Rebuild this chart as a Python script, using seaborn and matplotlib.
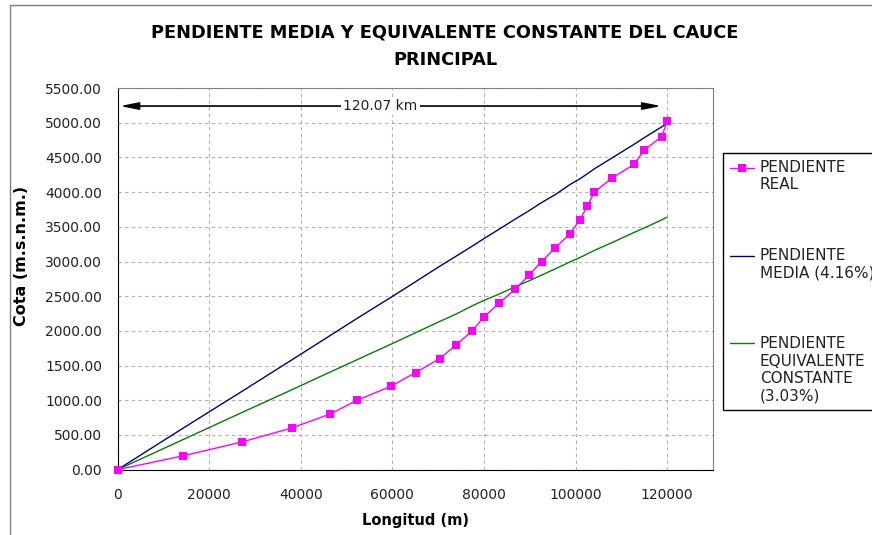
import numpy as np
import pandas as pd
import seaborn as sns
import matplotlib.pyplot as plt
from matplotlib.patches import Rectangle
from matplotlib.ticker import FuncFormatter, MultipleLocator
from matplotlib.legend_handler import HandlerLine2D

# longitud acumulada (m) y cotas (m.s.n.m.)
longitud = [0, 14350, 27200, 38000, 46350, 52300, 59600, 65100, 70300, 74000,
            77400, 80000, 83300, 86800, 89800, 92600, 95600, 98800, 100900,
            102600, 104100, 107900, 112800, 114900, 118800, 120000]
cota_real = [0, 200, 400, 600, 800, 1000, 1200, 1400, 1600, 1800, 2000, 2200,
             2400, 2600, 2800, 3000, 3200, 3400, 3600, 3800, 4000, 4200, 4400,
             4600, 4800, 5020]
cota_media = [0, 600, 1130, 1580, 1930, 2180, 2480, 2710, 2930, 3080, 3220,
              3330, 3465, 3610, 3730, 3850, 3965, 4110, 4190, 4265, 4335, 4490,
              4690, 4780, 4940, 4990]
cota_equiv = [0, 435, 825, 1150, 1405, 1585, 1805, 1975, 2135, 2245, 2360,
              2440, 2530, 2635, 2720, 2805, 2895, 2995, 3055, 3110, 3160, 3270,
              3420, 3480, 3600, 3638]

etiquetas = ["PENDIENTE\nREAL", "PENDIENTE\nMEDIA (4.16%)",
             "PENDIENTE\nEQUIVALENTE\nCONSTANTE\n(3.03%)"]
longitud_cauce = "120.07 km"

df = pd.DataFrame({"Longitud": longitud, "real": cota_real,
                   "media": cota_media, "equiv": cota_equiv})

sns.set_style("white")
plt.rcParams["font.family"] = ["DejaVu Sans"]
plt.rcParams["text.color"] = "black"

W, H = 872, 535
fig = plt.figure(figsize=(W / 100, H / 100), dpi=100)
ax = fig.add_axes([117.5 / W, 1 - 469.7 / H, (713 - 117.5) / W, (469.7 - 88) / H])

# marco exterior del grafico
fig.patches.append(Rectangle((10 / W, -0.1), 1.2, 1 - 5 / H + 0.1,
                             transform=fig.transFigure, fill=False,
                             edgecolor="#808080", lw=1))

sns.lineplot(data=df, x="Longitud", y="media", ax=ax, color="#000080",
             lw=1, label=etiquetas[1], zorder=3)
sns.lineplot(data=df, x="Longitud", y="equiv", ax=ax, color="#008000",
             lw=1, label=etiquetas[2], zorder=3)
sns.lineplot(data=df, x="Longitud", y="real", ax=ax, color="#ff00ff",
             lw=1, marker="s", markersize=6, markeredgewidth=0,
             label=etiquetas[0], clip_on=False, zorder=4)
if ax.get_legend() is not None:
    ax.get_legend().remove()

ax.set_xlim(0, 130000)
ax.set_ylim(0, 5500)
ax.yaxis.set_major_locator(MultipleLocator(500))
ax.yaxis.set_major_formatter(FuncFormatter(lambda v, p: f"{v:.2f}"))
ax.set_xticks(np.arange(0, 120001, 20000))
ax.grid(True, color="#b0b0b0", ls=(0, (3, 3)), lw=0.8)
ax.set_axisbelow(True)
ax.tick_params(direction="out", length=5, width=1, color="black",
               labelsize=10, labelcolor="#222222")
ax.tick_params(axis="x", pad=8)
ax.tick_params(axis="y", pad=6)
for s in ["left", "bottom"]:
    ax.spines[s].set_color("black")
for s in ["top", "right"]:
    ax.spines[s].set_color("#808080")
ax.set_xlabel("")
ax.set_ylabel("")

# flecha con la longitud del cauce
ax.annotate("", xy=(550, 5240), xytext=(118700, 5240),
            arrowprops=dict(arrowstyle="<|-|>,head_length=1.1,head_width=0.22",
                            color="black", lw=1.2, shrinkA=0, shrinkB=0))
ax.text(57400, 5240, longitud_cauce, ha="center", va="center", fontsize=10,
        color="#222222",
        bbox=dict(boxstyle="square,pad=0.15", fc="white", ec="none"))

fig.text(445 / W, 1 - 33 / H, "PENDIENTE MEDIA Y EQUIVALENTE CONSTANTE DEL CAUCE",
         ha="center", va="center", fontsize=12.8, fontweight="bold")
fig.text(445 / W, 1 - 60 / H, "PRINCIPAL", ha="center", va="center",
         fontsize=12.8, fontweight="bold")
fig.text(415 / W, 1 - 521 / H, "Longitud (m)", ha="center", va="center",
         fontsize=10.5, fontweight="bold")
fig.text(22 / W, 1 - 256 / H, "Cota (m.s.n.m.)", ha="center", va="center",
         rotation=90, fontsize=11.5, fontweight="bold")


class FirstLineHandler(HandlerLine2D):
    # coloca la linea de la leyenda a la altura de la primera linea de texto
    def __init__(self, nlines, **kw):
        super().__init__(**kw)
        self.nlines = nlines

    def create_artists(self, legend, orig_handle, xdescent, ydescent,
                       width, height, fontsize, trans):
        shift = (self.nlines - 1) * fontsize * 1.2
        return super().create_artists(legend, orig_handle, xdescent,
                                      ydescent - shift, width, height,
                                      fontsize, trans)


handles, labels = ax.get_legend_handles_labels()
order = [labels.index(e) for e in etiquetas]
handles = [handles[i] for i in order]
hmap = {h: FirstLineHandler(e.count("\n") + 1) for h, e in zip(handles, etiquetas)}
leg = fig.legend(handles, etiquetas, loc="upper left",
                 bbox_to_anchor=(723 / W, 1 - 153 / H), borderaxespad=0,
                 fontsize=11, frameon=True, fancybox=False, framealpha=1,
                 edgecolor="black", borderpad=0.45, handlelength=1.6,
                 handletextpad=0.35, labelspacing=3.65, handler_map=hmap,
                 labelcolor="#222222")
leg.get_frame().set_linewidth(1)

fig.savefig("out.png", dpi=100)
